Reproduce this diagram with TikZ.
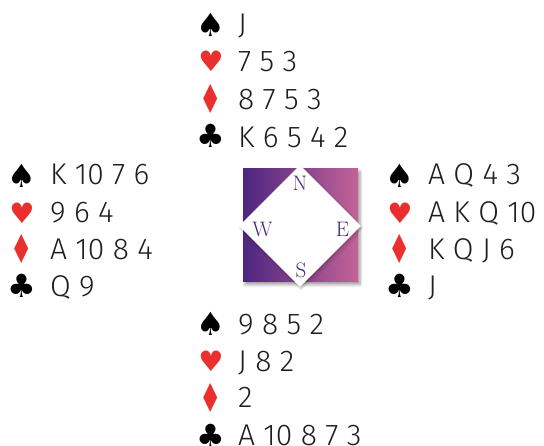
\documentclass[tikz,border=0pt]{standalone}
\usepackage{fontspec}
\newfontfamily\dinfont{Fira Sans}[UprightFont=* Light]
\newfontfamily\suitfont{DejaVu Sans}
\usetikzlibrary{shapes.geometric,shadows.blur}
\definecolor{suitred}{RGB}{234,48,46}
\definecolor{cardgray}{RGB}{30,30,30}
\definecolor{gradleft}{RGB}{76,38,128}
\definecolor{gradright}{RGB}{196,98,152}
\definecolor{compassink}{RGB}{68,38,118}
\tikzset{
  cards/.style={anchor=base west, inner sep=0pt, text=cardgray, font=\dinfont\fontsize{30}{30}\selectfont},
  suitb/.style={anchor=center, inner sep=0pt, text=black, font=\suitfont\fontsize{32}{32}\selectfont},
  suitr/.style={anchor=center, inner sep=0pt, text=suitred, font=\suitfont\fontsize{32}{32}\selectfont},
  compassletter/.style={anchor=center, inner sep=0pt, text=compassink, font=\fontsize{21}{21}\selectfont},
}
\newcommand\tallsuit[1]{\scalebox{0.78}[1.25]{#1}}
\newcommand\smallsuit[1]{\scalebox{0.88}{#1}}
\begin{document}
\begin{tikzpicture}[x=1pt,y=-1pt]
\useasboundingbox (0,0) rectangle (544,446);
% compass
\node[rectangle, minimum width=115pt, minimum height=113pt, inner sep=0pt,
  left color=gradleft, right color=gradright,
  blur shadow={shadow xshift=2pt, shadow yshift=-2.5pt, shadow blur steps=5, shadow blur radius=3pt, shadow opacity=40}] (sq) at (300.5,225.5) {};
\node[diamond, fill=white, minimum width=122pt, minimum height=122pt, inner sep=0pt,
  blur shadow={shadow xshift=1pt, shadow yshift=-2pt, shadow blur steps=4, shadow blur radius=2pt, shadow opacity=25}] (dia) at (300,226) {};
\node[compassletter] (cn) at (300,183.5) {N};
\node[compassletter] (cw) at (262.5,229) {W};
\node[compassletter] (ce) at (342.5,229) {E};
\node[compassletter] (cs) at (301,270.5) {S};
% North
\node[suitb] (ns) at (211,25) {♠};
\node[suitr] (nh) at (211,61) {\smallsuit{♥}};
\node[suitr] (nd) at (211,99) {\tallsuit{♦}};
\node[suitb] (nc) at (211,136) {♣};
\node[cards] (nst) at (238,35) {J};
\node[cards] (nht) at (238,72) {7 5 3};
\node[cards] (ndt) at (238,110) {8 7 5 3};
\node[cards] (nct) at (238,148) {K 6 5 4 2};
% West
\node[suitb] (ws) at (22,176) {♠};
\node[suitr] (wh) at (22,213) {\smallsuit{♥}};
\node[suitr] (wd) at (22,249) {\tallsuit{♦}};
\node[suitb] (wc) at (22,286) {♣};
\node[cards] (wst) at (50,185) {K 10 7 6};
\node[cards] (wht) at (50,223) {9 6 4};
\node[cards] (wdt) at (50,260) {A 10 8 4};
\node[cards] (wct) at (50,297) {Q 9};
% East
\node[suitb] (es) at (400,176) {♠};
\node[suitr] (eh) at (400,213) {\smallsuit{♥}};
\node[suitr] (ed) at (400,249) {\tallsuit{♦}};
\node[suitb] (ec) at (400,286) {♣};
\node[cards] (est) at (428,185) {A Q 4 3};
\node[cards] (eht) at (428,223) {A K Q 10};
\node[cards] (edt) at (428,260) {K Q J 6};
\node[cards] (ect) at (428,297) {J};
% South
\node[suitb] (ss) at (211,324) {♠};
\node[suitr] (sh) at (211,361) {\smallsuit{♥}};
\node[suitr] (sd) at (211,398) {\tallsuit{♦}};
\node[suitb] (sc) at (211,436) {♣};
\node[cards] (sst) at (238,335) {9 8 5 2};
\node[cards] (sht) at (238,372) {J 8 2};
\node[cards] (sdt) at (238,408) {2};
\node[cards] (sct) at (238,446) {A 10 8 7 3};
\end{tikzpicture}
\end{document}
